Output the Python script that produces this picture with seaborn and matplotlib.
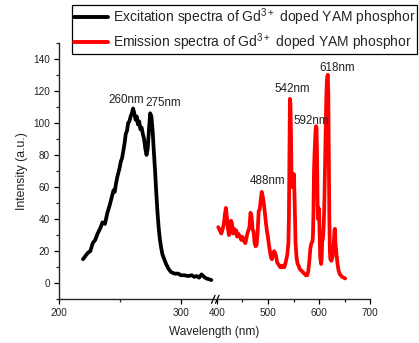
import numpy as np
import matplotlib
matplotlib.use("Agg")
import matplotlib.pyplot as plt
import seaborn as sns
from matplotlib.lines import Line2D
from matplotlib.ticker import MultipleLocator

# excitation spectrum (left part of the broken axis)
ex_wl = [220, 222, 224, 226, 228, 230, 232, 234, 236, 238, 240, 242, 244, 245, 246, 247, 248, 250,
         251, 252, 254, 255, 256, 257, 258, 259, 260, 261, 262, 263, 264, 265, 266, 267, 268, 269,
         270, 271, 272, 273, 274, 275, 276, 277, 278, 279, 280, 281, 282, 283, 284, 285, 286, 288,
         290, 292, 295, 298, 300, 303, 306, 309, 311, 313, 315, 317, 319, 321, 323, 325]
ex_int = [15, 17, 19, 20, 25, 27, 31, 34, 38, 37, 44, 49, 55, 58, 57, 62, 66, 72,
          76, 78, 87, 93, 95, 100, 101, 104, 106, 109, 106, 102, 104, 99, 101, 96, 97, 93,
          90, 84, 80, 84, 96, 106, 104, 95, 82, 70, 56, 44, 34, 27, 22, 18, 16, 12,
          9, 7, 6, 6, 5, 5, 4.5, 5, 4, 4.5, 3.5, 5.5, 4, 3, 2.5, 2]

# emission spectrum (right part of the broken axis)
em_wl = [403, 406, 409, 411, 414, 416, 418, 420, 422, 424, 426, 428, 430, 432, 434, 436, 438, 440,
         442, 444, 446, 448, 450, 452, 454, 456, 458, 460, 462, 464, 466, 468, 470, 472, 474, 476,
         478, 480, 482, 484, 486, 488, 490, 492, 494, 496, 498, 500, 502, 504, 506, 508, 510, 512,
         514, 516, 518, 520, 522, 524, 526, 528, 530, 532, 534, 536, 538, 540, 541, 542, 543, 544,
         545, 546, 547, 548, 549, 550, 551, 552, 553, 554, 556, 558, 560, 562, 565, 568, 571, 574,
         577, 579, 581, 583, 585, 587, 588, 589, 590, 591, 592, 593, 594, 595, 596, 597, 598, 599,
         600, 601, 602, 603, 604, 605, 606, 607, 608, 609, 610, 611, 612, 613, 614, 615, 616, 617,
         618, 619, 620, 621, 622, 624, 626, 628, 630, 631, 632, 634, 636, 638, 640, 642, 645, 648, 651]
em_int = [35, 33, 31, 33, 37, 43, 47, 41, 34, 30, 33, 39, 37, 31, 34, 31, 33, 29,
          31, 30, 29, 27, 29, 28, 26, 25, 28, 31, 33, 35, 44, 42, 34, 32, 25, 23,
          24, 32, 45, 46, 52, 57, 54, 50, 44, 38, 33, 29, 24, 20, 16, 15, 18, 20,
          19, 17, 13, 12, 11, 10, 11, 10, 11, 10, 12, 15, 18, 25, 40, 80, 115, 112,
          95, 70, 60, 66, 68, 66, 68, 55, 40, 25, 16, 12, 11, 9, 8, 7, 6, 5,
          5, 8, 14, 22, 25, 26, 30, 45, 70, 80, 87, 95, 98, 97, 80, 50, 40, 47,
          45, 30, 17, 14, 12, 15, 26, 27, 30, 36, 46, 63, 80, 100, 115, 125, 129, 130,
          118, 80, 40, 20, 15, 14, 16, 22, 33, 34, 25, 18, 12, 8, 6, 5, 4, 3.5, 3]

ex_label = "Excitation spectra of Gd$^{3+}$ doped YAM phosphor"
em_label = "Emission spectra of Gd$^{3+}$ doped YAM phosphor"

peak_text = ["260nm", "275nm", "488nm", "542nm", "592nm", "618nm"]
peak_x = [255, 286, 499, 548, 585, 635]
peak_y = [114, 112.5, 64, 121, 101, 134]

sns.set_style("ticks")
plt.rcParams['font.family'] = ['Liberation Sans', 'DejaVu Sans']
plt.rcParams['mathtext.default'] = 'regular'
plt.rcParams['axes.linewidth'] = 1.0
plt.rcParams['xtick.direction'] = 'out'
plt.rcParams['ytick.direction'] = 'out'

fig = plt.figure(figsize=(4.19, 3.43), dpi=100)
bottom = (343 - 299.3) / 343
height = (299.3 - 42.7) / 343
ax1 = fig.add_axes([58.5 / 419, bottom, (214.5 - 58.5) / 419, height])
ax2 = fig.add_axes([214.5 / 419, bottom, (370.3 - 214.5) / 419, height], sharey=ax1)

sns.lineplot(x=ex_wl, y=ex_int, ax=ax1, color='black', lw=2.7, label=ex_label)
sns.lineplot(x=em_wl, y=em_int, ax=ax2, color='#ff0000', lw=2.7, label=em_label)

ax1.set_xlim(200, 327.6)
ax2.set_xlim(395.7, 700)
ax1.set_ylim(-10, 150)

ax1.xaxis.set_major_locator(MultipleLocator(100))
ax1.xaxis.set_minor_locator(MultipleLocator(50))
ax2.xaxis.set_major_locator(MultipleLocator(100))
ax2.xaxis.set_minor_locator(MultipleLocator(50))
ax1.yaxis.set_major_locator(MultipleLocator(20))
ax1.yaxis.set_minor_locator(MultipleLocator(10))

for ax in (ax1, ax2):
    ax.spines['top'].set_visible(False)
    ax.spines['right'].set_visible(False)
    ax.tick_params(which='major', length=3.5, width=0.9, labelsize=7.2, colors='black',
                   labelcolor='#222222', pad=2.5)
    ax.tick_params(which='minor', length=2, width=0.9)
    ax.set_xlabel("")
    ax.set_ylabel("")
    ax.get_legend().remove()

ax2.spines['left'].set_visible(False)
ax2.tick_params(axis='y', which='both', left=False, labelleft=False)

ax1.set_ylabel("Intensity (a.u.)", fontsize=8.8, color='#222222', labelpad=4)
fig.text((58.5 + 370.3) / 2 / 419, 1 - 332 / 343, "Wavelength (nm)", ha='center', va='center',
         fontsize=8.6, color='#222222')

for t, x, y in zip(peak_text, peak_x, peak_y):
    ax = ax1 if x < 350 else ax2
    ax.text(x, y, t, ha='center', va='center', fontsize=8.4, color='#222222')

# break marks on the x axis
yb = (343 - 299.3) / 343
for x0 in (211.5, 215.5):
    fig.add_artist(Line2D([x0 / 419, (x0 + 3.5) / 419], [yb - 4 / 343, yb + 4 / 343],
                          color='black', lw=0.9))

handles = [Line2D([], [], color='black', lw=2.8), Line2D([], [], color='#ff0000', lw=2.8)]
fig.legend(handles, [ex_label, em_label], loc='upper left', bbox_to_anchor=(72 / 419, 1 - 5 / 343),
           fontsize=10, frameon=True, fancybox=False, edgecolor='black', framealpha=1,
           handlelength=2.5, handletextpad=0.3, borderpad=0.12, labelspacing=0.2,
           borderaxespad=0)
fig.legends[0].get_frame().set_linewidth(0.9)

plt.savefig("out.png", dpi=100)
